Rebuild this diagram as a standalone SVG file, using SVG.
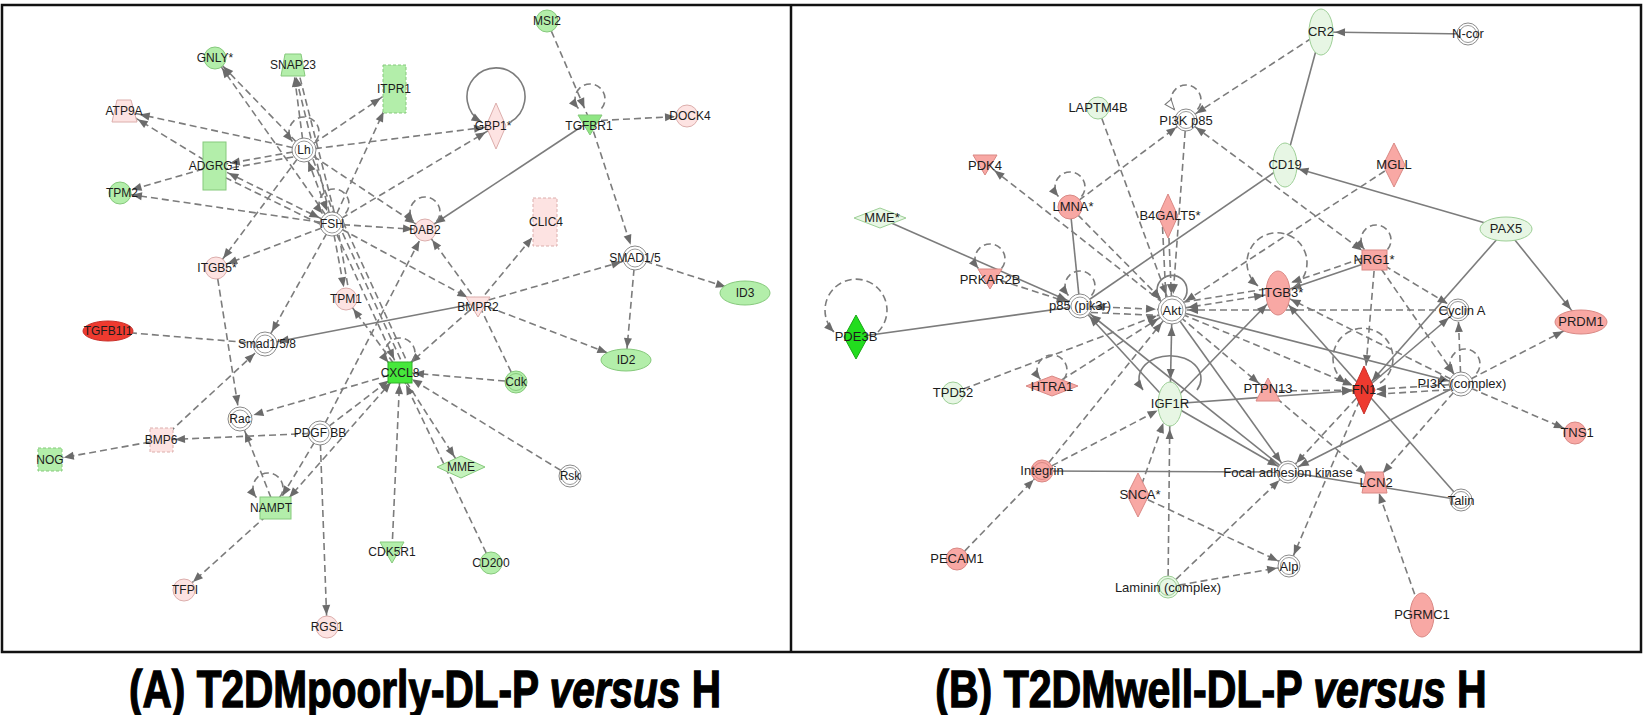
<svg xmlns="http://www.w3.org/2000/svg" xmlns:xlink="http://www.w3.org/1999/xlink" width="1645" height="715" viewBox="0 0 1645 715">
<style>
.d{stroke:#7c7c7c;stroke-width:1.6;stroke-dasharray:7 4;fill:none}
.s{stroke:#7c7c7c;stroke-width:1.6;fill:none}
.ah{fill:#6b6b6b}
.t{font-family:"Liberation Sans",Arial,sans-serif;font-size:12px;fill:#1c1c1c;text-anchor:middle}
.tb{font-size:13px}
.w{fill:#fff;stroke:#8a8a8a;stroke-width:1}
.wi{fill:none;stroke:#9a9a9a;stroke-width:1}
.g{fill:#b3eeaa;stroke:#86c97c;stroke-width:1}
.p{fill:#fde3e2;stroke:#dcaeac;stroke-width:1}
.lg{fill:#e7f6e4;stroke:#9dcf96;stroke-width:1}
.sa{fill:#f8a8a4;stroke:#d98884;stroke-width:1}
.r{fill:#ee3a2f;stroke:#c9302a;stroke-width:1}
.bg{fill:#46e83b;stroke:#31b428;stroke-width:1}
.dg{fill:#22dd1e;stroke:#18a815;stroke-width:1}
.dash{stroke-dasharray:3 2}
.ttl{font-family:"Liberation Sans",Arial,sans-serif;font-size:52px;font-weight:bold;fill:#000;stroke:#000;stroke-width:1.3;text-anchor:middle}
</style>
<defs>
<marker id="a12" markerUnits="userSpaceOnUse" markerWidth="10" markerHeight="8" refX="22" refY="4" orient="auto-start-reverse" overflow="visible"><path d="M0,0L10,4L0,8z" class="ah"/></marker>
<marker id="a14" markerUnits="userSpaceOnUse" markerWidth="10" markerHeight="8" refX="24" refY="4" orient="auto-start-reverse" overflow="visible"><path d="M0,0L10,4L0,8z" class="ah"/></marker>
<marker id="a16" markerUnits="userSpaceOnUse" markerWidth="10" markerHeight="8" refX="26" refY="4" orient="auto-start-reverse" overflow="visible"><path d="M0,0L10,4L0,8z" class="ah"/></marker>
<marker id="a20" markerUnits="userSpaceOnUse" markerWidth="10" markerHeight="8" refX="30" refY="4" orient="auto-start-reverse" overflow="visible"><path d="M0,0L10,4L0,8z" class="ah"/></marker>
<marker id="a25" markerUnits="userSpaceOnUse" markerWidth="10" markerHeight="8" refX="35" refY="4" orient="auto-start-reverse" overflow="visible"><path d="M0,0L10,4L0,8z" class="ah"/></marker>
<marker id="al" markerUnits="userSpaceOnUse" markerWidth="10" markerHeight="8" refX="10" refY="4" orient="auto" overflow="visible"><path d="M0,0L10,4L0,8z" class="ah"/></marker>
<marker id="alh" markerUnits="userSpaceOnUse" markerWidth="10" markerHeight="8" refX="10" refY="4" orient="auto" overflow="visible"><path d="M0,0L10,4L0,8z" fill="#fff" stroke="#777" stroke-width="1"/></marker>
<path id="lp" class="d" d="M11.5,-8.4A15 15 0 1 0 -11.5,-8.4" marker-end="url(#al)"/>
<path id="lps" class="s" d="M11.5,-10A15 15 0 1 0 -11.5,-10" marker-end="url(#al)"/>
<path id="lph" class="d" d="M11.5,-8.4A15 15 0 1 0 -11.5,-8.4" marker-end="url(#alh)"/>
</defs>
<rect width="1645" height="715" fill="#fff"/>
<rect x="2" y="5" width="1639" height="647" fill="none" stroke="#111" stroke-width="2.5"/>
<line x1="791" y1="5" x2="791" y2="652" stroke="#111" stroke-width="2.5"/>

<g id="connectors">
<!-- Panel A -->
<line class="d" x1="304" y1="150" x2="215" y2="58" marker-end="url(#a12)"/>
<line class="d" x1="332" y1="224" x2="215" y2="58" marker-end="url(#a12)"/>
<line class="d" x1="304" y1="150" x2="293" y2="65" marker-end="url(#a12)"/>
<line class="d" x1="332" y1="224" x2="293" y2="65" marker-end="url(#a12)"/>
<line class="d" x1="337" y1="223" x2="297" y2="66"/>
<line class="d" x1="304" y1="150" x2="394" y2="89" marker-end="url(#a16)"/>
<line class="d" x1="332" y1="224" x2="394" y2="89" marker-end="url(#a25)"/>
<line class="d" x1="304" y1="150" x2="124" y2="111" marker-end="url(#a16)"/>
<line class="d" x1="214" y1="166" x2="124" y2="111" marker-end="url(#a16)"/>
<line class="d" x1="304" y1="150" x2="214" y2="166" marker-end="url(#a16)"/>
<line class="d" x1="304" y1="155" x2="214" y2="171"/>
<line class="d" x1="332" y1="224" x2="214" y2="166" marker-start="url(#a14)" marker-end="url(#a16)"/>
<line class="d" x1="330" y1="229" x2="212" y2="171"/>
<line class="d" x1="214" y1="166" x2="120" y2="193" marker-end="url(#a12)"/>
<line class="d" x1="332" y1="224" x2="120" y2="193" marker-end="url(#a12)"/>
<line class="d" x1="304" y1="150" x2="332" y2="224" marker-start="url(#a12)" marker-end="url(#a14)"/>
<line class="d" x1="309" y1="149" x2="337" y2="222"/>
<line class="d" x1="304" y1="150" x2="496" y2="126" marker-end="url(#a12)"/>
<line class="d" x1="332" y1="224" x2="496" y2="126" marker-end="url(#a12)"/>
<line class="d" x1="304" y1="150" x2="425" y2="230" marker-end="url(#a12)"/>
<line class="d" x1="332" y1="224" x2="425" y2="230" marker-end="url(#a12)"/>
<line class="d" x1="304" y1="150" x2="216" y2="268" marker-end="url(#a12)"/>
<line class="d" x1="332" y1="224" x2="216" y2="268" marker-end="url(#a12)"/>
<line class="d" x1="332" y1="224" x2="265" y2="344" marker-end="url(#a14)"/>
<line class="d" x1="332" y1="224" x2="346" y2="299" marker-end="url(#a12)"/>
<line class="d" x1="337" y1="224" x2="350" y2="298"/>
<line class="d" x1="332" y1="224" x2="400" y2="372" marker-end="url(#a14)"/>
<line class="d" x1="338" y1="223" x2="405" y2="369"/>
<line class="d" x1="343" y1="222" x2="409" y2="366"/>
<line class="d" x1="332" y1="224" x2="478" y2="303" marker-end="url(#a12)"/>
<line class="d" x1="400" y1="372" x2="346" y2="299" marker-end="url(#a12)"/>
<line class="d" x1="216" y1="268" x2="240" y2="419" marker-end="url(#a14)"/>
<line class="d" x1="400" y1="372" x2="240" y2="419" marker-end="url(#a14)"/>
<line class="d" x1="275" y1="508" x2="240" y2="419" marker-end="url(#a14)"/>
<line class="d" x1="320" y1="433" x2="275" y2="508" marker-end="url(#a14)"/>
<line class="d" x1="400" y1="372" x2="280" y2="508" marker-start="url(#a14)" marker-end="url(#a14)"/>
<line class="d" x1="320" y1="433" x2="400" y2="372" marker-end="url(#a14)"/>
<line class="d" x1="320" y1="433" x2="161" y2="440" marker-end="url(#a14)"/>
<line class="d" x1="320" y1="433" x2="327" y2="627" marker-end="url(#a12)"/>
<line class="d" x1="320" y1="433" x2="425" y2="230" marker-end="url(#a12)"/>
<line class="d" x1="275" y1="508" x2="184" y2="590" marker-end="url(#a12)"/>
<line class="d" x1="161" y1="440" x2="50" y2="460" marker-end="url(#a14)"/>
<line class="d" x1="161" y1="440" x2="265" y2="344" marker-end="url(#a14)"/>
<line class="d" x1="108" y1="331" x2="265" y2="344"/>
<line class="s" x1="478" y1="303" x2="265" y2="344" marker-end="url(#a14)"/>
<line class="d" x1="478" y1="303" x2="425" y2="230" marker-end="url(#a12)"/>
<line class="d" x1="478" y1="303" x2="545" y2="222" marker-end="url(#a20)"/>
<line class="d" x1="478" y1="303" x2="635" y2="258" marker-end="url(#a14)"/>
<line class="d" x1="478" y1="303" x2="626" y2="360" marker-end="url(#a20)"/>
<line class="d" x1="478" y1="303" x2="400" y2="372" marker-end="url(#a14)"/>
<line class="d" x1="516" y1="382" x2="478" y2="303"/>
<line class="d" x1="516" y1="382" x2="400" y2="372" marker-end="url(#a14)"/>
<line class="s" x1="590" y1="121" x2="425" y2="230" marker-end="url(#a12)"/>
<line class="d" x1="547" y1="21" x2="590" y2="121" marker-end="url(#a14)"/>
<line class="d" x1="590" y1="121" x2="687" y2="116" marker-end="url(#a12)"/>
<line class="d" x1="590" y1="121" x2="635" y2="258" marker-end="url(#a14)"/>
<line class="d" x1="635" y1="258" x2="745" y2="293" marker-end="url(#a20)"/>
<line class="d" x1="635" y1="258" x2="626" y2="360" marker-end="url(#a12)"/>
<line class="d" x1="400" y1="372" x2="461" y2="467" marker-end="url(#a12)"/>
<line class="d" x1="491" y1="563" x2="400" y2="372" marker-end="url(#a14)"/>
<line class="d" x1="392" y1="550" x2="400" y2="372" marker-end="url(#a12)"/>
<line class="d" x1="570" y1="476" x2="400" y2="372" marker-end="url(#a14)"/>
<use href="#lp" x="304" y="150"/>
<use href="#lp" x="334" y="222"/>
<use href="#lp" x="590" y="117"/>
<use href="#lp" x="425" y="230"/>
<use href="#lp" x="400" y="371"/>
<use href="#lp" x="268" y="506"/>
<path class="s" d="M510.5,122A29 29 0 1 0 481.5,122" marker-end="url(#al)"/>

<!-- Panel B -->
<line class="s" x1="1468" y1="34" x2="1321" y2="32" marker-end="url(#a14)"/>
<line class="s" x1="1321" y1="32" x2="1285" y2="165"/>
<line class="d" x1="1321" y1="32" x2="1186" y2="120" marker-end="url(#a12)"/>
<line class="d" x1="1186" y1="120" x2="1375" y2="260" marker-start="url(#a12)" marker-end="url(#a16)"/>
<line class="d" x1="1070" y1="207" x2="1186" y2="120" marker-end="url(#a12)"/>
<line class="d" x1="1098" y1="108" x2="1172" y2="310" marker-end="url(#a16)"/>
<line class="d" x1="1186" y1="120" x2="1172" y2="310" marker-end="url(#a16)"/>
<line class="d" x1="1168" y1="216" x2="1172" y2="310" marker-end="url(#a16)"/>
<line class="d" x1="1162" y1="216" x2="1166" y2="300"/>
<line class="d" x1="1070" y1="207" x2="1172" y2="310" marker-end="url(#a16)"/>
<line class="s" x1="1070" y1="207" x2="1080" y2="306"/>
<line class="d" x1="1172" y1="310" x2="985" y2="163" marker-end="url(#a12)"/>
<line class="s" x1="880" y1="218" x2="1080" y2="306" marker-end="url(#a14)"/>
<line class="d" x1="990" y1="277" x2="1080" y2="306" marker-end="url(#a14)"/>
<line class="s" x1="856" y1="337" x2="1080" y2="306"/>
<line class="d" x1="1080" y1="306" x2="1172" y2="310" marker-start="url(#a14)" marker-end="url(#a16)"/>
<line class="d" x1="1080" y1="312" x2="1172" y2="316"/>
<line class="s" x1="1285" y1="165" x2="1080" y2="306"/>
<line class="s" x1="1506" y1="229" x2="1285" y2="165" marker-end="url(#a14)"/>
<line class="s" x1="1506" y1="229" x2="1581" y2="322" marker-end="url(#a16)"/>
<line class="s" x1="1506" y1="229" x2="1364" y2="390" marker-end="url(#a12)"/>
<line class="d" x1="1394" y1="165" x2="1172" y2="310" marker-end="url(#a16)"/>
<line class="s" x1="1375" y1="260" x2="1278" y2="293" marker-end="url(#a14)"/>
<line class="d" x1="1372" y1="255" x2="1278" y2="287" marker-end="url(#a14)"/>
<line class="d" x1="1375" y1="260" x2="1458" y2="310" marker-end="url(#a12)"/>
<line class="d" x1="1375" y1="260" x2="1364" y2="390" marker-end="url(#a25)"/>
<line class="d" x1="1375" y1="260" x2="1461" y2="384" marker-end="url(#a12)"/>
<line class="d" x1="1172" y1="310" x2="1278" y2="293" marker-start="url(#a16)" marker-end="url(#a14)"/>
<line class="d" x1="1172" y1="304" x2="1278" y2="287"/>
<line class="d" x1="1458" y1="310" x2="1172" y2="310" marker-end="url(#a16)"/>
<line class="d" x1="1461" y1="384" x2="1458" y2="310" marker-end="url(#a12)"/>
<line class="s" x1="1364" y1="390" x2="1458" y2="310" marker-end="url(#a12)"/>
<line class="d" x1="1461" y1="384" x2="1581" y2="322" marker-end="url(#a20)"/>
<line class="d" x1="1461" y1="384" x2="1575" y2="433" marker-end="url(#a12)"/>
<line class="d" x1="1461" y1="384" x2="1364" y2="390" marker-end="url(#a12)"/>
<line class="d" x1="1461" y1="389" x2="1364" y2="395" marker-end="url(#a12)"/>
<line class="d" x1="1461" y1="384" x2="1375" y2="482" marker-end="url(#a12)"/>
<line class="s" x1="1461" y1="384" x2="1288" y2="472" marker-end="url(#a12)"/>
<line class="d" x1="1461" y1="384" x2="1278" y2="293" marker-end="url(#a14)"/>
<line class="s" x1="1172" y1="310" x2="1461" y2="384" marker-end="url(#a12)"/>
<line class="s" x1="1172" y1="310" x2="1170" y2="404" marker-start="url(#a16)" marker-end="url(#a25)"/>
<line class="s" x1="1170" y1="404" x2="1364" y2="390" marker-end="url(#a12)"/>
<line class="d" x1="1268" y1="391" x2="1364" y2="390" marker-end="url(#a12)"/>
<line class="d" x1="1172" y1="310" x2="1268" y2="391" marker-end="url(#a12)"/>
<line class="d" x1="1172" y1="310" x2="1364" y2="390" marker-end="url(#a12)"/>
<line class="s" x1="1170" y1="404" x2="1278" y2="293" marker-end="url(#a16)"/>
<line class="s" x1="1364" y1="390" x2="1278" y2="293" marker-end="url(#a16)"/>
<line class="s" x1="1288" y1="472" x2="1080" y2="306" marker-end="url(#a14)"/>
<line class="s" x1="1170" y1="404" x2="1080" y2="306" marker-end="url(#a14)"/>
<line class="s" x1="1170" y1="404" x2="1288" y2="472" marker-end="url(#a12)"/>
<line class="s" x1="1172" y1="310" x2="1288" y2="472" marker-end="url(#a12)"/>
<line class="s" x1="1042" y1="471" x2="1288" y2="472"/>
<line class="s" x1="1288" y1="472" x2="1461" y2="500"/>
<line class="s" x1="1364" y1="390" x2="1461" y2="500"/>
<line class="d" x1="1364" y1="390" x2="1288" y2="472" marker-end="url(#a12)"/>
<line class="d" x1="1364" y1="390" x2="1289" y2="566" marker-end="url(#a12)"/>
<line class="d" x1="1268" y1="391" x2="1375" y2="482" marker-end="url(#a12)"/>
<line class="d" x1="1138" y1="495" x2="1289" y2="566" marker-end="url(#a12)"/>
<line class="d" x1="1168" y1="587" x2="1289" y2="566" marker-end="url(#a12)"/>
<line class="d" x1="1168" y1="587" x2="1170" y2="404" marker-end="url(#a25)"/>
<line class="d" x1="1168" y1="587" x2="1288" y2="472" marker-end="url(#a12)"/>
<line class="d" x1="1138" y1="495" x2="1170" y2="404" marker-end="url(#a20)"/>
<line class="d" x1="1042" y1="471" x2="1170" y2="404" marker-end="url(#a14)"/>
<line class="d" x1="1042" y1="471" x2="1172" y2="310" marker-end="url(#a16)"/>
<line class="d" x1="957" y1="559" x2="1042" y2="471" marker-end="url(#a12)"/>
<line class="d" x1="1052" y1="386" x2="1172" y2="310" marker-end="url(#a16)"/>
<line class="d" x1="953" y1="393" x2="1172" y2="310" marker-end="url(#a16)"/>
<line class="d" x1="1422" y1="615" x2="1375" y2="482" marker-end="url(#a12)"/>
<use href="#lph" x="1186" y="118"/>
<use href="#lp" x="1070" y="205"/>
<use href="#lp" x="990" y="277"/>
<use href="#lp" x="1080" y="304"/>
<use href="#lps" x="1172" y="310"/>
<use href="#lp" x="1376" y="258"/>
<use href="#lp" x="1465" y="382"/>
<use href="#lp" x="1052" y="388"/>
<path class="d" d="M878,332A31 31 0 1 0 834,332" marker-end="url(#al)"/>
<path class="d" d="M1296,286A30 30 0 1 0 1258,286" marker-end="url(#al)"/>
<path class="d" d="M1380,383A30 30 0 1 0 1346,383" marker-end="url(#al)"/>
<path class="s" d="M1197,390A31 23 0 1 0 1143,390" marker-end="url(#al)"/>
</g>

<!-- Panel A nodes -->
<g id="n-GNLY"><circle cx="215" cy="58" r="11" class="g"/><text x="215" y="62" class="t">GNLY*</text></g>
<g id="n-SNAP23"><polygon points="285,54 301,54 305,76 281,76" class="g"/><text x="293" y="69" class="t">SNAP23</text></g>
<g id="n-ITPR1"><rect x="383" y="65" width="23" height="48" class="g dash"/><text x="394" y="93" class="t">ITPR1</text></g>
<g id="n-ATP9A"><polygon points="117,100 131,100 137,122 112,122" class="p"/><text x="124" y="115" class="t">ATP9A</text></g>
<g id="n-Lh"><circle cx="304" cy="150" r="12" class="w"/><circle cx="304" cy="150" r="9" class="wi"/><text x="304" y="154" class="t">Lh</text></g>
<g id="n-ADGRG1"><rect x="203" y="142" width="23" height="48" class="g"/><text x="214" y="170" class="t">ADGRG1</text></g>
<g id="n-TPM2"><circle cx="120" cy="193" r="11" class="g"/><text x="122" y="197" class="t">TPM2</text></g>
<g id="n-FSH"><circle cx="332" cy="224" r="12" class="w"/><circle cx="332" cy="224" r="9" class="wi"/><text x="332" y="228" class="t">FSH</text></g>
<g id="n-ITGB5"><circle cx="216" cy="268" r="11" class="p"/><text x="217" y="272" class="t">ITGB5*</text></g>
<g id="n-TPM1"><circle cx="346" cy="299" r="11" class="p"/><text x="346" y="303" class="t">TPM1</text></g>
<g id="n-GBP1"><polygon points="496,103 506,126 496,149 486,126" class="p"/><text x="493" y="130" class="t">GBP1*</text></g>
<g id="n-MSI2"><circle cx="547" cy="21" r="11" class="g"/><text x="547" y="25" class="t">MSI2</text></g>
<g id="n-TGFBR1"><polygon points="578,115 602,115 590,135" class="g" style="fill:#8fe684"/><text x="589" y="130" class="t">TGFBR1</text></g>
<g id="n-DOCK4"><circle cx="687" cy="116" r="11" class="p"/><text x="690" y="120" class="t">DOCK4</text></g>
<g id="n-DAB2"><circle cx="425" cy="230" r="11" class="p"/><text x="425" y="234" class="t">DAB2</text></g>
<g id="n-CLIC4"><rect x="533" y="198" width="24" height="48" class="p dash"/><text x="546" y="226" class="t">CLIC4</text></g>
<g id="n-SMAD15"><circle cx="635" cy="258" r="12" class="w"/><circle cx="635" cy="258" r="9" class="wi"/><text x="635" y="262" class="t">SMAD1/5</text></g>
<g id="n-ID3"><ellipse cx="745" cy="293" rx="25" ry="12" class="g"/><text x="745" y="297" class="t">ID3</text></g>
<g id="n-BMPR2"><polygon points="466,297 490,297 478,317" class="p"/><text x="478" y="311" class="t">BMPR2</text></g>
<g id="n-TGFB1I1"><ellipse cx="108" cy="331" rx="25" ry="10" class="r"/><text x="108" y="335" class="t">TGFB1I1</text></g>
<g id="n-Smad158"><circle cx="265" cy="344" r="12" class="w"/><circle cx="265" cy="344" r="9" class="wi"/><text x="267" y="348" class="t">Smad1/5/8</text></g>
<g id="n-CXCL8"><rect x="388" y="362" width="24" height="21" class="bg"/><text x="400" y="377" class="t">CXCL8</text></g>
<g id="n-ID2"><ellipse cx="626" cy="360" rx="25" ry="11" class="g"/><text x="626" y="364" class="t">ID2</text></g>
<g id="n-Cdk"><circle cx="516" cy="382" r="11" class="g"/><circle cx="516" cy="382" r="8.5" fill="none" stroke="#86c97c"/><text x="516" y="386" class="t">Cdk</text></g>
<g id="n-Rac"><circle cx="240" cy="419" r="12" class="w"/><circle cx="240" cy="419" r="9" class="wi"/><text x="240" y="423" class="t">Rac</text></g>
<g id="n-PDGFBB"><circle cx="320" cy="433" r="12" class="w"/><circle cx="320" cy="433" r="9" class="wi"/><text x="320" y="437" class="t">PDGF BB</text></g>
<g id="n-BMP6"><rect x="150" y="428" width="23" height="24" class="p dash"/><text x="161" y="444" class="t">BMP6</text></g>
<g id="n-NOG"><rect x="38" y="448" width="24" height="23" class="g dash"/><text x="50" y="464" class="t">NOG</text></g>
<g id="n-MME"><polygon points="437,467 461,456 485,467 461,478" class="g" style="fill:#c4f2bc"/><text x="461" y="471" class="t">MME</text></g>
<g id="n-Rsk"><circle cx="570" cy="476" r="11" class="w"/><circle cx="570" cy="476" r="8.5" class="wi"/><text x="570" y="480" class="t">Rsk</text></g>
<g id="n-NAMPT"><rect x="260" y="497" width="31" height="22" class="g"/><text x="271" y="512" class="t">NAMPT</text></g>
<g id="n-CDK5R1"><polygon points="380,542 404,542 392,563" class="g"/><text x="392" y="556" class="t">CDK5R1</text></g>
<g id="n-CD200"><circle cx="491" cy="563" r="11" class="g"/><text x="491" y="567" class="t">CD200</text></g>
<g id="n-TFPI"><circle cx="184" cy="590" r="11" class="p"/><text x="185" y="594" class="t">TFPI</text></g>
<g id="n-RGS1"><circle cx="327" cy="627" r="11" class="p"/><text x="327" y="631" class="t">RGS1</text></g>

<!-- Panel B nodes -->
<g id="n-CR2"><ellipse cx="1321" cy="32" rx="12" ry="23" class="lg"/><text x="1321" y="36" class="t tb">CR2</text></g>
<g id="n-Ncor"><circle cx="1468" cy="34" r="11" class="w"/><circle cx="1468" cy="34" r="8.5" class="wi"/><text x="1468" y="38" class="t tb">N-cor</text></g>
<g id="n-LAPTM4B"><circle cx="1098" cy="108" r="11" class="lg"/><text x="1098" y="112" class="t tb">LAPTM4B</text></g>
<g id="n-PI3Kp85"><circle cx="1186" cy="120" r="11" class="w"/><circle cx="1186" cy="120" r="8.5" class="wi"/><text x="1186" y="125" class="t tb">PI3K p85</text></g>
<g id="n-PDK4"><polygon points="973,155 997,155 985,175" class="sa"/><text x="985" y="170" class="t tb">PDK4</text></g>
<g id="n-CD19"><ellipse cx="1285" cy="165" rx="12" ry="22" class="lg"/><text x="1285" y="169" class="t tb">CD19</text></g>
<g id="n-MGLL"><polygon points="1394,143 1405,165 1394,187 1383,165" class="sa"/><text x="1394" y="169" class="t tb">MGLL</text></g>
<g id="n-LMNA"><circle cx="1070" cy="207" r="12" class="sa"/><text x="1073" y="211" class="t tb">LMNA*</text></g>
<g id="n-B4GALT5"><polygon points="1168,194 1178,216 1168,238 1158,216" class="sa"/><text x="1170" y="220" class="t tb">B4GALT5*</text></g>
<g id="n-MMEs"><polygon points="854,218 880,208 906,218 880,228" class="lg"/><text x="882" y="222" class="t tb">MME*</text></g>
<g id="n-PAX5"><ellipse cx="1506" cy="229" rx="26" ry="12" class="lg"/><text x="1506" y="233" class="t tb">PAX5</text></g>
<g id="n-NRG1"><rect x="1362" y="250" width="25" height="20" class="sa"/><text x="1374" y="264" class="t tb">NRG1*</text></g>
<g id="n-PRKAR2B"><polygon points="978,269 1002,269 990,289" class="sa"/><text x="990" y="284" class="t tb">PRKAR2B</text></g>
<g id="n-ITGB3"><ellipse cx="1278" cy="293" rx="12" ry="22" class="sa"/><text x="1282" y="297" class="t tb">ITGB3*</text></g>
<g id="n-p85"><circle cx="1080" cy="306" r="12" class="w"/><circle cx="1080" cy="306" r="9" class="wi"/><text x="1080" y="310" class="t tb">p85 (pik3r)</text></g>
<g id="n-Akt"><circle cx="1172" cy="310" r="14" class="w"/><circle cx="1172" cy="310" r="11" class="wi"/><text x="1172" y="315" class="t tb">Akt</text></g>
<g id="n-CyclinA"><circle cx="1458" cy="310" r="11" class="w"/><circle cx="1458" cy="310" r="8.5" class="wi"/><text x="1462" y="315" class="t tb">Cyclin A</text></g>
<g id="n-PRDM1"><ellipse cx="1581" cy="322" rx="26" ry="12" class="sa"/><text x="1581" y="326" class="t tb">PRDM1</text></g>
<g id="n-PDE3B"><polygon points="856,315 868,337 856,359 844,337" class="dg"/><text x="856" y="341" class="t tb">PDE3B</text></g>
<g id="n-IGF1R"><ellipse cx="1170" cy="404" rx="12" ry="22" class="lg"/><text x="1170" y="408" class="t tb">IGF1R</text></g>
<g id="n-PI3Kc"><circle cx="1461" cy="384" r="12" class="w"/><circle cx="1461" cy="384" r="9" class="wi"/><text x="1462" y="388" class="t tb">PI3K (complex)</text></g>
<g id="n-PTPN13"><polygon points="1268,378 1280,401 1256,401" class="sa"/><text x="1268" y="393" class="t tb">PTPN13</text></g>
<g id="n-FN1"><polygon points="1364,366 1375,390 1364,414 1353,390" class="r"/><text x="1364" y="394" class="t tb">FN1</text></g>
<g id="n-HTRA1"><polygon points="1026,386 1052,376 1078,386 1052,396" class="sa"/><text x="1052" y="391" class="t tb">HTRA1</text></g>
<g id="n-TPD52"><circle cx="953" cy="393" r="11" class="lg"/><text x="953" y="397" class="t tb">TPD52</text></g>
<g id="n-TNS1"><circle cx="1575" cy="433" r="11" class="sa"/><text x="1577" y="437" class="t tb">TNS1</text></g>
<g id="n-Integrin"><circle cx="1042" cy="471" r="11" class="sa"/><circle cx="1042" cy="471" r="8.5" fill="none" stroke="#d98884"/><text x="1042" y="475" class="t tb">Integrin</text></g>
<g id="n-FAK"><circle cx="1288" cy="472" r="11" class="w"/><circle cx="1288" cy="472" r="8.5" class="wi"/><text x="1288" y="477" class="t tb">Focal adhesion kinase</text></g>
<g id="n-LCN2"><polygon points="1366,472 1383,472 1387,493 1362,493" class="sa"/><text x="1376" y="487" class="t tb">LCN2</text></g>
<g id="n-SNCA"><polygon points="1138,473 1149,495 1138,517 1127,495" class="sa"/><text x="1140" y="499" class="t tb">SNCA*</text></g>
<g id="n-Talin"><circle cx="1461" cy="500" r="11" class="w"/><circle cx="1461" cy="500" r="8.5" class="wi"/><text x="1461" y="505" class="t tb">Talin</text></g>
<g id="n-PECAM1"><circle cx="957" cy="559" r="11" class="sa"/><text x="957" y="563" class="t tb">PECAM1</text></g>
<g id="n-Alp"><circle cx="1289" cy="566" r="11" class="w"/><circle cx="1289" cy="566" r="8.5" class="wi"/><text x="1289" y="571" class="t tb">Alp</text></g>
<g id="n-Laminin"><circle cx="1168" cy="587" r="11" class="lg"/><circle cx="1168" cy="587" r="8.5" fill="none" stroke="#9dcf96"/><text x="1168" y="592" class="t tb">Laminin (complex)</text></g>
<g id="n-PGRMC1"><ellipse cx="1422" cy="615" rx="12" ry="22" class="sa"/><text x="1422" y="619" class="t tb">PGRMC1</text></g>

<g id="titles">
<text class="ttl" transform="translate(425,707) scale(0.78,1)">(A) T2DMpoorly-DL-P <tspan font-style="italic">versus</tspan> H</text>
<text class="ttl" transform="translate(1211,707) scale(0.79,1)">(B) T2DMwell-DL-P <tspan font-style="italic">versus</tspan> H</text>
</g>
</svg>
